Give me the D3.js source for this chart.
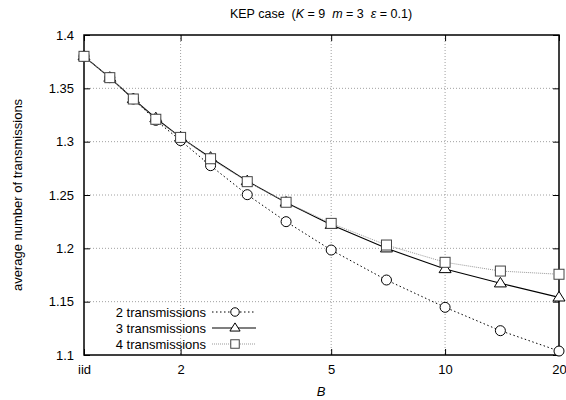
<!DOCTYPE html>
<html>
<head>
<meta charset="utf-8">
<script src="https://cdn.jsdelivr.net/npm/d3@7"></script>
<style>
body { margin: 0; background: #fff; }
svg { display: block; font-family: "Liberation Sans", Arial, sans-serif; }
text { white-space: pre; }
</style>
</head>
<body>
<svg id="chart" width="566" height="400"></svg>
<script>
// ---- data ----
const B = [1.111, 1.3, 1.5, 1.72, 2, 2.4, 3, 3.8, 5, 7, 10, 14, 20];
const tx2 = [1.38, 1.36, 1.34, 1.32, 1.301, 1.2775, 1.2503, 1.225, 1.1984, 1.1703, 1.1447, 1.1228, 1.1037];
const tx3 = [1.38, 1.36, 1.34, 1.322, 1.304, 1.285, 1.263, 1.243, 1.222, 1.200, 1.1806, 1.1672, 1.154];
const tx4 = [1.38, 1.36, 1.34, 1.321, 1.304, 1.284, 1.2625, 1.2432, 1.2234, 1.2031, 1.1869, 1.1787, 1.1757];
const xTicks = [1.111, 2, 5, 10, 20];
const xTickLabels = ["iid", "2", "5", "10", "20"];
const yTicks = [1.1, 1.15, 1.2, 1.25, 1.3, 1.35, 1.4];
const seriesNames = ["2 transmissions", "3 transmissions", "4 transmissions"];

// ---- layout ----
const svg = d3.select("#chart");
const L = 84, R = 559, T = 35, Bt = 355;
const x = d3.scaleLog().domain([1.111, 20]).range([L, R]);
const y = d3.scaleLinear().domain([1.1, 1.4]).range([Bt, T]);

// grid
const grid = svg.append("g").attr("stroke", "#888").attr("stroke-width", 0.8).attr("stroke-dasharray", "1,2");
grid.selectAll(".gx").data(xTicks.slice(1, -1)).join("line")
  .attr("x1", d => x(d)).attr("x2", d => x(d)).attr("y1", T).attr("y2", Bt);
grid.selectAll(".gy").data(yTicks.slice(1, -1)).join("line")
  .attr("x1", L).attr("x2", R).attr("y1", d => y(d)).attr("y2", d => y(d));

// axes
const fs = 13;
const axL = svg.append("g").attr("transform", `translate(${L},0)`)
  .call(d3.axisLeft(y).tickValues(yTicks).tickSize(-6).tickPadding(10).tickFormat(d3.format("")));
const axR = svg.append("g").attr("transform", `translate(${R},0)`)
  .call(d3.axisRight(y).tickValues(yTicks).tickSize(-6).tickFormat(""));
const axB = svg.append("g").attr("transform", `translate(0,${Bt})`)
  .call(d3.axisBottom(x).tickValues(xTicks).tickSize(-6).tickPadding(10).tickFormat((d, i) => xTickLabels[i]));
const axT = svg.append("g").attr("transform", `translate(0,${T})`)
  .call(d3.axisTop(x).tickValues(xTicks).tickSize(-6).tickFormat(""));
[axL, axR, axB, axT].forEach(a => {
  a.select(".domain").remove();
  a.selectAll("line").attr("stroke", "#000");
  a.selectAll("text").attr("font-size", fs).attr("fill", "#000").attr("font-family", "Liberation Sans, Arial, sans-serif");
});
svg.append("rect").attr("x", L).attr("y", T).attr("width", R - L).attr("height", Bt - T)
  .attr("fill", "none").attr("stroke", "#000").attr("stroke-width", 1.5);

// series
const styles = [
  { data: tx2, stroke: "#000", dash: "1.5,2.5", width: 1, marker: "circle", mstroke: "#000" },
  { data: tx3, stroke: "#000", dash: null, width: 1.1, marker: "triangle", mstroke: "#000" },
  { data: tx4, stroke: "#999", dash: "1,1", width: 1, marker: "square", mstroke: "#444" }
];
const line = d3.line().x(d => x(d[0])).y(d => y(d[1]));
function drawMarker(g, type, cx, cy, stroke, sc) {
  sc = sc || 1;
  if (type === "circle") {
    g.append("circle").attr("cx", cx).attr("cy", cy).attr("r", 5 * sc)
      .attr("fill", "#fff").attr("stroke", stroke).attr("stroke-width", 1);
  } else if (type === "triangle") {
    const s = 6 * sc;
    g.append("path").attr("d", `M${cx},${cy - s}L${cx + s},${cy + s * 0.6}L${cx - s},${cy + s * 0.6}Z`)
      .attr("fill", "#fff").attr("stroke", stroke).attr("stroke-width", 1);
  } else {
    const h = 5 * sc;
    g.append("rect").attr("x", cx - h).attr("y", cy - h).attr("width", 2 * h).attr("height", 2 * h)
      .attr("fill", "#fff").attr("stroke", stroke).attr("stroke-width", 1);
  }
}
styles.forEach(s => {
  const pts = B.map((b, i) => [b, s.data[i]]);
  svg.append("path").attr("d", line(pts)).attr("fill", "none")
    .attr("stroke", s.stroke).attr("stroke-width", s.width).attr("stroke-dasharray", s.dash);
  const g = svg.append("g");
  pts.forEach(p => drawMarker(g, s.marker, x(p[0]), y(p[1]), s.mstroke));
});

// legend
const legY = [312, 328, 344];
seriesNames.forEach((n, i) => {
  const s = styles[i];
  const g = svg.append("g");
  g.append("text").attr("x", 206).attr("y", legY[i]).attr("dy", "0.35em").attr("text-anchor", "end")
    .attr("font-size", fs).text(n);
  g.append("line").attr("x1", 212).attr("x2", 256).attr("y1", legY[i]).attr("y2", legY[i])
    .attr("stroke", s.stroke).attr("stroke-width", s.width).attr("stroke-dasharray", s.dash);
  drawMarker(g, s.marker, 235, legY[i], s.mstroke, 0.85);
});

// title
const title = svg.append("text").attr("x", 321).attr("y", 18).attr("text-anchor", "middle").attr("font-size", 12.5);
title.append("tspan").text("KEP case  (");
title.append("tspan").attr("font-style", "italic").text("K");
title.append("tspan").text(" = 9  ");
title.append("tspan").attr("font-style", "italic").text("m");
title.append("tspan").text(" = 3  ");
title.append("tspan").attr("font-style", "italic").text("ε");
title.append("tspan").text(" = 0.1)");

// axis labels
svg.append("text").attr("transform", "translate(22,195) rotate(-90)").attr("text-anchor", "middle")
  .attr("font-size", fs).text("average number of transmissions");
svg.append("text").attr("x", 321).attr("y", 396).attr("text-anchor", "middle")
  .attr("font-size", fs).attr("font-style", "italic").text("B");
</script>
</body>
</html>
